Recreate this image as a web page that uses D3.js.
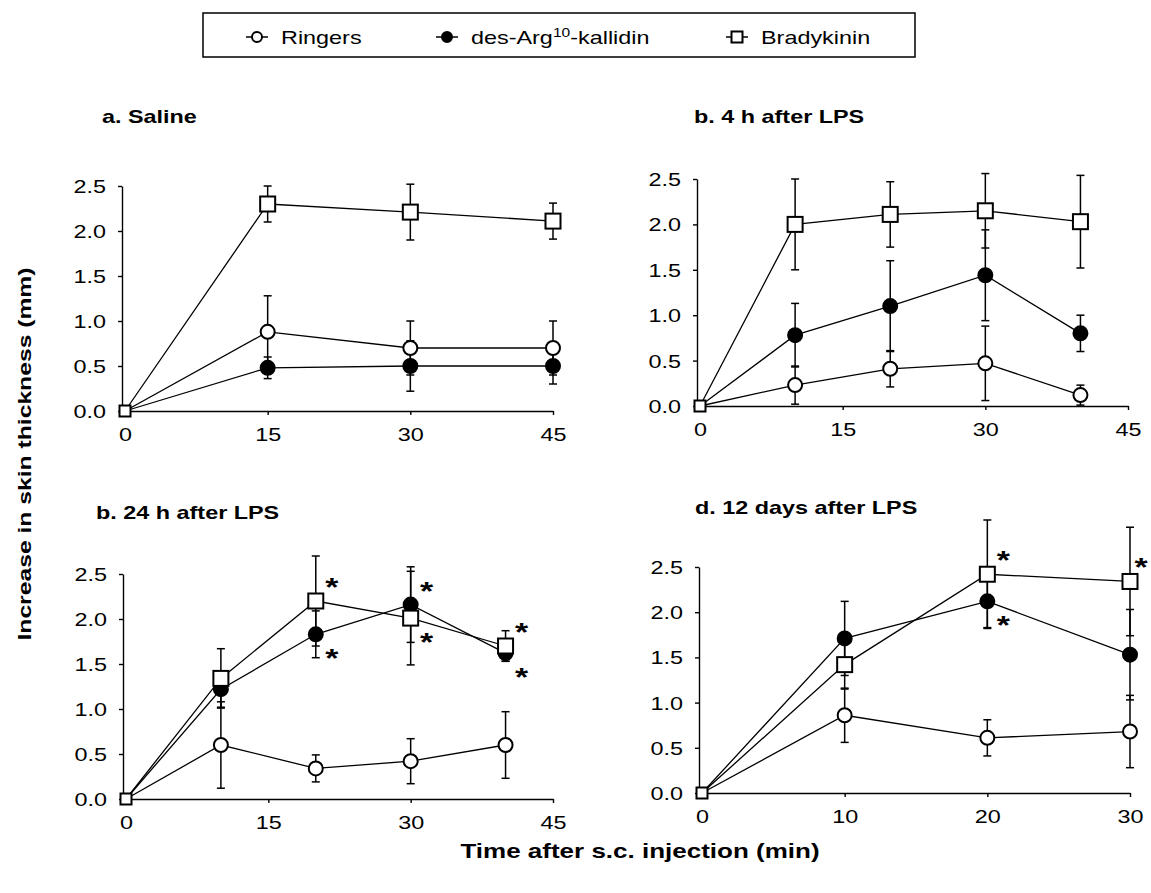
<!DOCTYPE html>
<html>
<head>
<meta charset="utf-8">
<script src="https://cdn.jsdelivr.net/npm/d3@7"></script>
<style>
  body { margin: 0; background: #fff; }
  text { font-family: "Liberation Sans", Arial, sans-serif; fill: #000; }
</style>
</head>
<body>
<div id="chart"></div>
<script>
// series + panel names
const seriesNames = ["Ringers", "des-Arg", "Bradykinin"];
const panelTitles = ["a. Saline", "b. 4 h after LPS", "b. 24 h after LPS", "d. 12 days after LPS"];
const yTicks = [0, 0.5, 1.0, 1.5, 2.0, 2.5];
const xTicks45 = [0, 15, 30, 45];
const xTicks30 = [0, 10, 20, 30];

// a. Saline
const timesA = [0, 15, 30, 45];
const ringersA = [0, 0.88, 0.70, 0.70];
const ringersAErr = [0, 0.40, 0.30, 0.30];
const desArgA = [0, 0.48, 0.50, 0.50];
const desArgAErr = [0, 0.12, 0.28, 0.20];
const bradyA = [0, 2.30, 2.21, 2.11];
const bradyAErr = [0, 0.20, 0.31, 0.20];

// b. 4 h after LPS
const timesB = [0, 10, 20, 30, 40];
const ringersB = [0, 0.23, 0.41, 0.47, 0.12];
const ringersBErr = [0, 0.21, 0.20, 0.41, 0.11];
const desArgB = [0, 0.78, 1.10, 1.44, 0.80];
const desArgBErr = [0, 0.35, 0.50, 0.50, 0.20];
const bradyB = [0, 2.00, 2.11, 2.15, 2.03];
const bradyBErr = [0, 0.50, 0.36, 0.41, 0.51];

// c. 24 h after LPS
const timesC = [0, 10, 20, 30, 40];
const ringersC = [0, 0.60, 0.34, 0.42, 0.60];
const ringersCErr = [0, 0.48, 0.15, 0.25, 0.37];
const desArgC = [0, 1.22, 1.83, 2.16, 1.62];
const desArgCErr = [0, 0.20, 0.26, 0.42, 0.09];
const bradyC = [0, 1.34, 2.20, 2.01, 1.70];
const bradyCErr = [0, 0.33, 0.50, 0.52, 0.17];
// [time, series index, side (-1 above, 1 below)]
const starsC = [[20, 2, -1], [20, 1, 1], [30, 1, -1], [30, 2, 1], [40, 2, -1], [40, 1, 1]];

// d. 12 days after LPS
const timesD = [0, 10, 20, 30];
const ringersD = [0, 0.86, 0.61, 0.68];
const ringersDErr = [0, 0.30, 0.20, 0.40];
const desArgD = [0, 1.71, 2.12, 1.53];
const desArgDErr = [0, 0.41, 0.29, 0.50];
const bradyD = [0, 1.42, 2.42, 2.34];
const bradyDErr = [0, 0.27, 0.60, 0.60];
const starsD = [[20, 2, -1], [20, 1, 1], [30, 2, -1]];

const W = 1151, H = 893;
const SX = 1.3; // the scanned lettering is wide

const svg = d3.select("#chart").append("svg")
    .attr("width", W).attr("height", H);

function wide(sel, x, y) {
    sel.attr("transform", "translate(" + x + "," + y + ") scale(" + SX + ",1)");
}

const panels = [
    {title: panelTitles[0], tx: 102, ty: 123, x0: 125, x1: 553, y0: 411, y1: 186, xmax: 45, xticks: xTicks45,
     times: timesA, vals: [ringersA, desArgA, bradyA], errs: [ringersAErr, desArgAErr, bradyAErr], stars: []},
    {title: panelTitles[1], tx: 694, ty: 123, x0: 700, x1: 1128, y0: 406, y1: 179, xmax: 45, xticks: xTicks45,
     times: timesB, vals: [ringersB, desArgB, bradyB], errs: [ringersBErr, desArgBErr, bradyBErr], stars: []},
    {title: panelTitles[2], tx: 96, ty: 519, x0: 126, x1: 553, y0: 799, y1: 574, xmax: 45, xticks: xTicks45,
     times: timesC, vals: [ringersC, desArgC, bradyC], errs: [ringersCErr, desArgCErr, bradyCErr], stars: starsC},
    {title: panelTitles[3], tx: 695, ty: 514, x0: 702, x1: 1130, y0: 793, y1: 567, xmax: 30, xticks: xTicks30,
     times: timesD, vals: [ringersD, desArgD, bradyD], errs: [ringersDErr, desArgDErr, bradyDErr], stars: starsD}
];

function drawMarker(g, i, cx, cy, small) {
    if (i === 2) {
        let s = small ? 11 : 15;
        g.append("rect")
            .attr("x", cx - s / 2).attr("y", cy - s / 2)
            .attr("width", s).attr("height", s)
            .style("fill", "#fff").style("stroke", "#000").style("stroke-width", 2);
    } else {
        g.append("circle")
            .attr("cx", cx).attr("cy", cy).attr("r", small ? 5 : 7)
            .style("fill", i === 1 ? "#000" : "#fff")
            .style("stroke", "#000").style("stroke-width", 2);
    }
}

panels.forEach(function(p) {
    let x = d3.scaleLinear().domain([0, p.xmax]).range([p.x0, p.x1]);
    let y = d3.scaleLinear().domain([0, 2.5]).range([p.y0, p.y1]);
    let g = svg.append("g");

    svg.append("text")
        .style("font-size", "18px").style("font-weight", "bold")
        .text(p.title)
        .call(wide, p.tx, p.ty);

    // axes
    let xAxis = g.append("g")
        .attr("transform", "translate(0," + p.y0 + ")")
        .call(d3.axisBottom(x).tickValues(p.xticks).tickSize(4).tickSizeOuter(0));
    xAxis.selectAll("text")
        .attr("y", 0).attr("dy", 0)
        .style("font-size", "18px").style("font-family", null)
        .each(function() { d3.select(this).call(wide, 0, 30); });

    let yAxis = g.append("g")
        .attr("transform", "translate(" + (p.x0 - 3) + ",0)")
        .call(d3.axisLeft(y).tickValues(yTicks).tickFormat(d3.format(".1f")).tickSize(4).tickSizeOuter(0));
    yAxis.selectAll("text")
        .attr("x", 0).attr("dy", "0.36em")
        .style("font-size", "18px").style("font-family", null)
        .each(function() { d3.select(this).call(wide, -16, 0); });
    g.selectAll(".domain, .tick line").style("stroke", "#000").style("stroke-width", 1.4);

    // error bars
    p.vals.forEach(function(vals, i) {
        vals.forEach(function(v, k) {
            let e = p.errs[i][k];
            if (!e) return;
            let cx = x(p.times[k]);
            g.append("line")
                .attr("x1", cx).attr("x2", cx)
                .attr("y1", y(Math.max(0, v - e))).attr("y2", y(v + e))
                .style("stroke", "#000").style("stroke-width", 1.5);
            [v - e, v + e].forEach(function(c) {
                if (c < 0) return;
                g.append("line")
                    .attr("x1", cx - 4).attr("x2", cx + 4)
                    .attr("y1", y(c)).attr("y2", y(c))
                    .style("stroke", "#000").style("stroke-width", 1.5);
            });
        });
    });

    // lines
    let line = d3.line().x(d => x(d[0])).y(d => y(d[1]));
    p.vals.forEach(function(vals) {
        g.append("path")
            .datum(p.times.map((t, k) => [t, vals[k]]))
            .attr("d", line)
            .style("fill", "none").style("stroke", "#000").style("stroke-width", 1.3);
    });

    // markers
    p.vals.forEach(function(vals, i) {
        vals.forEach(function(v, k) {
            drawMarker(g, i, x(p.times[k]), y(v), p.times[k] === 0);
        });
    });

    // significance stars (kept inside the page)
    p.stars.forEach(function(s) {
        let k = p.times.indexOf(s[0]);
        let v = p.vals[s[1]][k];
        g.append("text")
            .attr("text-anchor", "middle")
            .style("font-size", "26px").style("font-weight", "bold")
            .text("*")
            .call(wide, Math.min(x(s[0]) + 16, W - 10), y(v) + s[2] * 19 + 14);
    });
});

// axis titles
svg.append("text")
    .attr("text-anchor", "middle")
    .style("font-size", "19px").style("font-weight", "bold")
    .attr("transform", "translate(31,454) rotate(-90) scale(" + SX + ",1)")
    .text("Increase in skin thickness (mm)");

svg.append("text")
    .attr("text-anchor", "middle")
    .style("font-size", "20px").style("font-weight", "bold")
    .text("Time after s.c. injection (min)")
    .call(wide, 640, 858);

// legend
let legend = svg.append("g");
legend.append("rect")
    .attr("x", 203).attr("y", 13).attr("width", 712).attr("height", 44)
    .style("fill", "none").style("stroke", "#000").style("stroke-width", 1.5);
let legendX = [257, 447, 737];
seriesNames.forEach(function(name, i) {
    let cx = legendX[i];
    legend.append("line")
        .attr("x1", cx - 11).attr("x2", cx + 11).attr("y1", 37).attr("y2", 37)
        .style("stroke", "#000").style("stroke-width", 1.5);
    drawMarker(legend, i, cx, 37, true);
    let t = legend.append("text").style("font-size", "18px");
    t.append("tspan").text(name);
    if (i === 1) {
        t.append("tspan").attr("dy", -7).style("font-size", "12px").text("10");
        t.append("tspan").attr("dy", 7).text("-kallidin");
    }
    t.call(wide, cx + 24, 44);
});
</script>
</body>
</html>
